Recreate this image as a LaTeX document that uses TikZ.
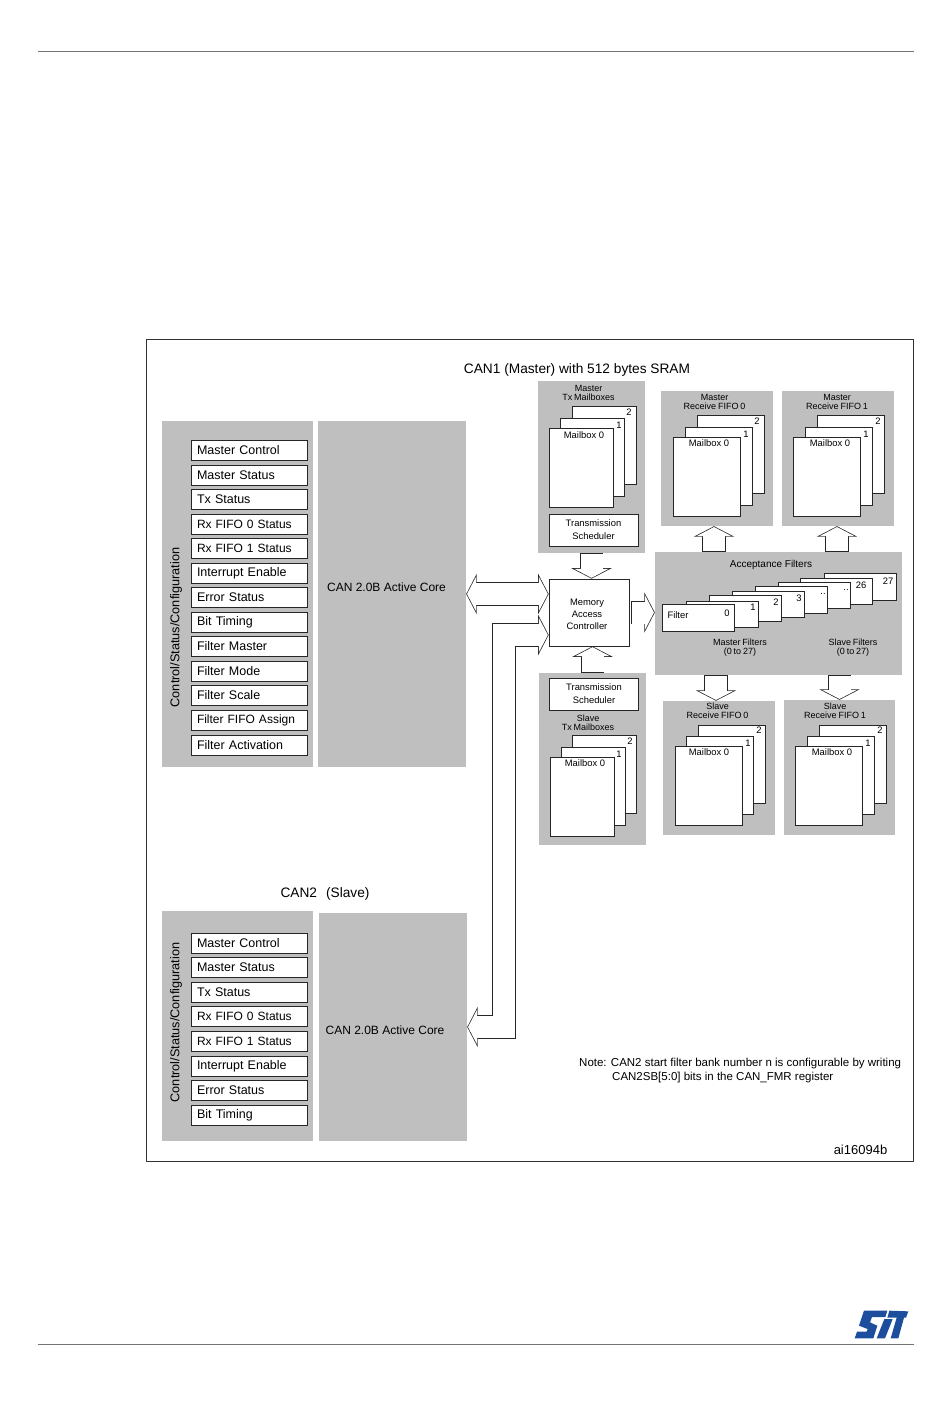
\documentclass[tikz,border=0pt]{standalone}
\usepackage{fontspec}
\setmainfont{Liberation Sans}
\usetikzlibrary{arrows.meta,calc}
\definecolor{stblue}{HTML}{1D4E9E}
\newcommand{\narrowspace}{\spaceskip 1.8pt\relax}
\begin{document}
\begin{tikzpicture}[
    x=1pt, y=-1pt,
    regfont/.style={font=\fontsize{12.5}{13}\selectfont},
    tiny/.style={font=\fontsize{9.4}{9.2}\selectfont, align=center, inner sep=0pt},
    header/.style={font=\fontsize{9}{9.2}\selectfont\narrowspace, align=center, inner sep=0pt},
    rule/.style={draw=black!55, line width=.8pt},
    frame/.style={draw=black!80, line width=.7pt, inner sep=0pt, minimum width=767pt, minimum height=822pt},
    panel/.style={fill=black!25, inner sep=0pt},
    txpanel/.style={panel, minimum width=107pt, minimum height=172pt},
    rxpanel/.style={panel, minimum width=112pt, minimum height=135pt},
    regbox/.style={draw=black!85, fill=white, line width=.7pt, regfont, text width=104pt, align=left, inner xsep=6pt, inner ysep=0pt, minimum height=20pt},
    fifobox/.style={regbox, font=\fontsize{12}{13}\selectfont\narrowspace},
    scheduler/.style={draw=black!85, fill=white, line width=.7pt, tiny, font=\fontsize{9.4}{13}\selectfont, minimum width=89pt, minimum height=32pt},
    txpage/.style={draw=black!85, fill=white, line width=.7pt, inner sep=0pt, minimum width=64pt, minimum height=78pt},
    rxpage/.style={txpage, minimum width=67pt},
    card/.style={txpage, minimum width=72pt, minimum height=26.5pt},
    blockarr/.style={draw=black!85, line width=23.4pt, line join=miter, -{Triangle[width=40pt,length=10.5pt]},
        postaction={draw=white, line width=22pt, shorten <=.7pt, shorten >=.8pt, -{Triangle[width=34pt,length=9pt]}}},
    blockdbl/.style={draw=black!85, line width=23.4pt, line join=miter, {Triangle[width=40pt,length=10.5pt]}-{Triangle[width=40pt,length=10.5pt]},
        postaction={draw=white, line width=22pt, shorten <=.8pt, shorten >=.8pt, {Triangle[width=34pt,length=9pt]}-{Triangle[width=34pt,length=9pt]}}},
]
    \useasboundingbox (0,0) rectangle (950,1420);

    % ============= Page furniture =============
    \coordinate (topL) at (38,51);
    \coordinate (topR) at (914,51);
    \coordinate (botL) at (38,1344.5);
    \coordinate (botR) at (914,1344.5);
    \draw[rule] (topL) -- (topR);
    \draw[rule] (botL) -- (botR);
    \node[frame] (outer) at (529.5,750) {};
    \begin{scope}[shift={(850,1305)}, x=.3333pt, y=-.3333pt]
        \fill[stblue] (42,17) -- (112,17) -- (106,36) -- (66,36) -- (60,52) -- (82,62) -- (70,100) -- (14,100) -- (21,80) -- (50,80) -- (53,72) -- (27,62) -- cycle;
        \fill[stblue] (118,17) -- (175,19) -- (168,38) -- (162,38) -- (145,100) -- (122,100) -- (140,38) -- (112,38) -- cycle;
        \fill[stblue] (103,42) -- (128,42) -- (105,100) -- (80,100) -- cycle;
    \end{scope}

    % ============= CAN1 left block =============
    \node[font=\fontsize{13.7}{14}\selectfont] (titleM) at (577,369.5) {CAN1 (Master) with 512 bytes SRAM};
    \node[panel, minimum width=151pt, minimum height=346pt] (ctrlM) at (237.5,594) {};
    \node[panel, minimum width=148pt, minimum height=346pt] (coreM) at (392,594) {};
    \node[font=\fontsize{12.7}{13}\selectfont, rotate=90] (ctrlMtext) at (176,627.5) {Control/Status/Configuration};
    \node[font=\fontsize{12}{13}\selectfont] (coreMtext) at (386.5,587) {CAN 2.0B Active Core};
    \node[regbox] (regM1) at (249,450) {Master Control};
    \node[regbox] (regM2) at (249,475) {Master Status};
    \node[regbox] (regM3) at (249,499) {Tx Status};
    \node[fifobox] (regM4) at (249,524) {Rx FIFO 0 Status};
    \node[fifobox] (regM5) at (249,548) {Rx FIFO 1 Status};
    \node[regbox] (regM6) at (249,573) {Interrupt Enable};
    \node[regbox] (regM7) at (249,597) {Error Status};
    \node[regbox] (regM8) at (249,622) {Bit Timing};
    \node[regbox] (regM9) at (249,646) {Filter Master};
    \node[regbox] (regM10) at (249,671) {Filter Mode};
    \node[regbox] (regM11) at (249,695) {Filter Scale};
    \node[fifobox] (regM12) at (249,720) {Filter FIFO Assign};
    \node[regbox] (regM13) at (249,745) {Filter Activation};

    % ============= CAN2 left block =============
    \node[font=\fontsize{13.7}{14}\selectfont] (titleS) at (325,893.5) {CAN2\hspace{9pt}(Slave)};
    \node[panel, minimum width=151pt, minimum height=230pt] (ctrlS) at (237.5,1026) {};
    \node[panel, minimum width=148pt, minimum height=228pt] (coreS) at (393,1027) {};
    \node[font=\fontsize{12.7}{13}\selectfont, rotate=90] (ctrlStext) at (176,1022.5) {Control/Status/Configuration};
    \node[font=\fontsize{12}{13}\selectfont] (coreStext) at (385,1030) {CAN 2.0B Active Core};
    \node[regbox] (regS1) at (249,943) {Master Control};
    \node[regbox] (regS2) at (249,967) {Master Status};
    \node[regbox] (regS3) at (249,992) {Tx Status};
    \node[fifobox] (regS4) at (249,1016) {Rx FIFO 0 Status};
    \node[fifobox] (regS5) at (249,1041) {Rx FIFO 1 Status};
    \node[regbox] (regS6) at (249,1066) {Interrupt Enable};
    \node[regbox] (regS7) at (249,1090) {Error Status};
    \node[regbox] (regS8) at (249,1115) {Bit Timing};

    % ============= Tx mailboxes =============
    \node[txpanel] (txM) at (591.5,467) {};
    \node[header] (txMtext) at (588.5,393) {Master\\Tx Mailboxes};
    \node[txpage] (txM2) at (604,445) {};
    \node[txpage] (txM1) at (592,457) {};
    \node[txpage, minimum height=79pt] (txM0) at (581,467.5) {};
    \node[tiny] (txM2text) at (629,412) {2};
    \node[tiny] (txM1text) at (619,425) {1};
    \node[tiny] (txM0text) at (584,435.5) {Mailbox 0};
    \node[scheduler] (schedM) at (593.5,530) {Transmission\\Scheduler};

    \node[txpanel] (txS) at (592.5,759) {};
    \node[scheduler] (schedS) at (594,694) {Transmission\\Scheduler};
    \node[header] (txStext) at (588,722.5) {Slave\\Tx Mailboxes};
    \node[txpage] (txS2) at (604.5,774) {};
    \node[txpage] (txS1) at (593,786) {};
    \node[txpage, minimum height=79pt] (txS0) at (582,796.5) {};
    \node[tiny] (txS2text) at (630,741.5) {2};
    \node[tiny] (txS1text) at (619,754.5) {1};
    \node[tiny] (txS0text) at (585,763.5) {Mailbox 0};

    % ============= Receive FIFOs =============
    \node[rxpanel] (rxM0) at (717,458.5) {};
    \node[header] (rxM0text) at (714.5,402) {Master\\Receive FIFO 0};
    \node[rxpage] (rxM02) at (730.5,454.5) {};
    \node[rxpage] (rxM01) at (718.5,466) {};
    \node[rxpage, minimum height=79pt] (rxM00) at (706.5,476.5) {};
    \node[tiny] (rxM02text) at (757,421.5) {2};
    \node[tiny] (rxM01text) at (746,434.5) {1};
    \node[tiny] (rxM00text) at (709,443.5) {Mailbox 0};

    \node[rxpanel] (rxM1) at (838,458.5) {};
    \node[header] (rxM1text) at (837,402) {Master\\Receive FIFO 1};
    \node[rxpage] (rxM12) at (851,454.5) {};
    \node[rxpage] (rxM11) at (839,466) {};
    \node[rxpage, minimum height=79pt] (rxM10) at (827,476.5) {};
    \node[tiny] (rxM12text) at (878,421.5) {2};
    \node[tiny] (rxM11text) at (866,434.5) {1};
    \node[tiny] (rxM10text) at (830,443.5) {Mailbox 0};

    \node[rxpanel, minimum height=134pt] (rxS0) at (719,768) {};
    \node[header] (rxS0text) at (717.5,711) {Slave\\Receive FIFO 0};
    \node[rxpage] (rxS02) at (732,764) {};
    \node[rxpage] (rxS01) at (720,775.5) {};
    \node[rxpage, minimum height=79pt] (rxS00) at (708.5,786) {};
    \node[tiny] (rxS02text) at (759,730.5) {2};
    \node[tiny] (rxS01text) at (748,743.5) {1};
    \node[tiny] (rxS00text) at (709,752.5) {Mailbox 0};

    \node[rxpanel, minimum height=135pt, minimum width=111pt] (rxS1) at (839.5,767.5) {};
    \node[header] (rxS1text) at (835,711) {Slave\\Receive FIFO 1};
    \node[rxpage] (rxS12) at (853,764) {};
    \node[rxpage] (rxS11) at (841,775.5) {};
    \node[rxpage, minimum height=79pt] (rxS10) at (828.5,786) {};
    \node[tiny] (rxS12text) at (880,730.5) {2};
    \node[tiny] (rxS11text) at (868,743.5) {1};
    \node[tiny] (rxS10text) at (832,752.5) {Mailbox 0};

    % ============= Acceptance filters =============
    \node[panel, minimum width=247pt, minimum height=123pt] (accept) at (778.5,613.5) {};
    \node[tiny, font=\fontsize{10}{10}\selectfont] (accepttext) at (771,565) {Acceptance Filters};
    \node[card] (card27) at (860,587) {};
    \node[card] (card26) at (836.5,591.5) {};
    \node[card] (card5) at (814.5,595.5) {};
    \node[card] (card4) at (791.5,600) {};
    \node[card] (card3) at (768.5,604.5) {};
    \node[card] (card2) at (745,608.5) {};
    \node[card] (card1) at (722,614.5) {};
    \node[card] (card0) at (698.5,618) {};
    \node[tiny] (card27text) at (888,581) {27};
    \node[tiny] (card26text) at (861,585) {26};
    \node[tiny] (card5text) at (846,590) {..};
    \node[tiny] (card4text) at (823,594) {..};
    \node[tiny] (card3text) at (799,598) {3};
    \node[tiny] (card2text) at (776,602) {2};
    \node[tiny] (card1text) at (753,607) {1};
    \node[tiny] (card0text) at (727,613.5) {0};
    \node[tiny] (filtertext) at (678,615.5) {Filter};
    \node[header] (masterfilters) at (740,648) {Master Filters\\(0 to 27)};
    \node[header] (slavefilters) at (853,648) {Slave Filters\\(0 to 27)};

    % ============= Memory controller and block arrows =============
    \node[draw=black!85, fill=white, line width=.7pt, inner sep=0pt, minimum width=80pt, minimum height=67pt] (mac) at (589,612.5) {};
    \node[tiny, font=\fontsize{9.4}{11.8}\selectfont] (mactext) at (587,614.5) {Memory\\Access\\Controller};
    \coordinate (bus) at (504,635);
    \draw[blockdbl] (coreM.east) -- (coreM.east -| mac.west);
    \draw[blockdbl] (coreS.east) -- (coreS.east -| bus) -- (bus) -- (bus -| mac.west);
    \draw[blockarr] (txM.south) -- (txM.south |- mac.north);
    \draw[blockarr] (txS.north) -- (txS.north |- mac.south);
    \draw[blockarr] ([xshift=2pt]mac.east) -- (mac.east -| accept.west);
    \draw[blockarr] ([xshift=-3pt]rxM0.south |- accept.north) -- ([xshift=-3pt]rxM0.south);
    \draw[blockarr] ([xshift=-1pt]rxM1.south |- accept.north) -- ([xshift=-1pt]rxM1.south);
    \draw[blockarr] ([xshift=-3pt]rxS0.north |- accept.south) -- ([xshift=-3pt]rxS0.north);
    \draw[blockarr] (rxS1.north |- accept.south) -- (rxS1.north);

    % Bottom notes
    \node[anchor=west, align=left, inner sep=0pt, font=\fontsize{11.5}{14}\selectfont] (note) at (579,1071) {Note: CAN2 start filter bank number n is configurable by writing\\\hspace*{33pt}CAN2SB[5:0] bits in the CAN\_FMR register};
    \node[font=\fontsize{13}{13}\selectfont] (docref) at (860.5,1149.5) {ai16094b};
\end{tikzpicture}
\end{document}
